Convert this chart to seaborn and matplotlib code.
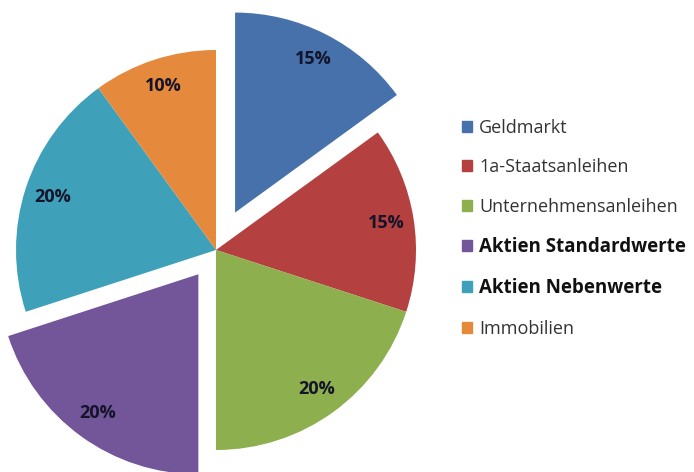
import matplotlib
matplotlib.use("Agg")
import matplotlib.pyplot as plt
import seaborn as sns

categories = ["Geldmarkt", "1a-Staatsanleihen", "Unternehmensanleihen",
              "Aktien Standardwerte", "Aktien Nebenwerte", "Immobilien"]
values = [15, 15, 20, 20, 20, 10]
explode_px = [42, 0, 0, 30, 0, 0]
colors = ["#4671AB", "#B4413F", "#8DAF4D", "#735699", "#3FA0B9", "#E5893C"]
bold_legend = [False, False, False, True, True, False]

sns.set_theme(style="white")
plt.rcParams['font.family'] = ['Open Sans', 'DejaVu Sans']

fig = plt.figure(figsize=(6.94, 4.72), dpi=100)
ax = fig.add_axes([0, 0, 1, 1])
ax.set_xlim(0, 694)
ax.set_ylim(0, 472)
ax.set_aspect('equal')
ax.axis('off')

wedges, texts, autotexts = ax.pie(
    values, colors=colors, explode=explode_px, startangle=90, counterclock=False,
    center=(216, 472 - 250), radius=200, autopct='%d%%', pctdistance=0.86,
    wedgeprops=dict(linewidth=0),
    textprops=dict(fontsize=13, fontweight='bold', color='#14142a'))
ax.set_xlim(0, 694)
ax.set_ylim(0, 472)

handles = [plt.Rectangle((0, 0), 1, 1, color=c) for c in colors]
leg = ax.legend(handles, categories, loc='upper left', bbox_to_anchor=(462 / 694, 1 - 119 / 472),
                frameon=False, fontsize=13, handlelength=0.55, handleheight=0.55,
                handletextpad=0.4, labelspacing=1.18, borderpad=0, borderaxespad=0)
for t, b in zip(leg.get_texts(), bold_legend):
    if b:
        t.set_fontweight('bold')
        t.set_fontsize(13.5)
        t.set_color('#111111')
    else:
        t.set_color('#333333')

fig.savefig("out.png", dpi=100, facecolor='white')
